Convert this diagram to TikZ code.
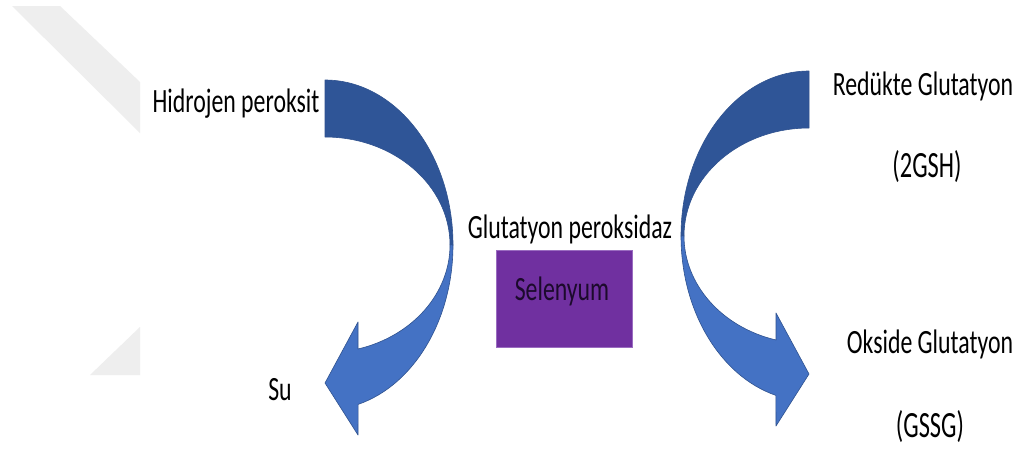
\documentclass[tikz,border=0pt]{standalone}
\usepackage{fontspec}
\usepackage{graphicx}
\setmainfont{Carlito}
\definecolor{darkband}{HTML}{2F5597}
\definecolor{lightband}{HTML}{4472C4}
\definecolor{bandedge}{HTML}{2F528F}
\definecolor{sepurple}{HTML}{7030A0}
\definecolor{seedge}{HTML}{9A6CC0}
\definecolor{wmgray}{HTML}{EEEEEE}
\definecolor{setext}{HTML}{1C0A2C}
\tikzset{
  lbl/.style={anchor=base, inner sep=0pt, font=\fontsize{34}{40}\selectfont},
  biglbl/.style={anchor=base, inner sep=0pt, font=\fontsize{37}{42}\selectfont},
  dark/.style={fill=darkband, draw=bandedge, line width=0.6pt, line join=round},
  light/.style={fill=lightband, draw=bandedge, line width=0.6pt, line join=round},
}
\newcommand{\sq}[1]{\scalebox{0.7}[1]{#1}}
\newcommand{\sqb}[1]{\scalebox{0.66}[1]{#1}}
\newcommand{\curvedarrowshape}{%
  % upper (back) band
  \path[dark] (0,-165) arc[start angle=-90, end angle=0, x radius=128, y radius=165]
     -- (125,0) arc[start angle=0, end angle=-90, x radius=125, y radius=108] -- cycle;
  % lower (front) band with arrow head
  \path[light] (128,0) arc[start angle=0, end angle=75, x radius=128, y radius=165]
     -- (33,190) -- (0,138) -- (33,77)
     -- (33,104) arc[start angle=74.7, end angle=0, x radius=125, y radius=108] -- cycle;
}
\begin{document}
\begin{tikzpicture}[x=1pt,y=-1pt]
\useasboundingbox[fill=white] (0,0) rectangle (1020,450);
% faint background watermark
\fill[wmgray] (12,6) -- (60,6) -- (140,82) -- (140,133) -- cycle;
\fill[wmgray] (90,375) -- (140,327) -- (140,375) -- cycle;
% curved arrows
\begin{scope}[shift={(325,245)}]
  \curvedarrowshape
\end{scope}
\begin{scope}[shift={(809,236)}, xscale=-1]
  \curvedarrowshape
\end{scope}
% Selenyum box
\node[draw=seedge, fill=sepurple, line width=0.6pt, minimum width=136pt, minimum height=97pt, inner sep=0pt] (se) at (564,298.5) {};
\node[lbl, text=setext] (setxt) at (562,300) {\sq{Selenyum}};
% labels
\node[lbl] (h2o2) at (236,112) {\sq{Hidrojen peroksit}};
\node[lbl] (su) at (280,400) {\sq{Su}};
\node[lbl] (gpx) at (570,238) {\sq{Glutatyon peroksidaz}};
\node[lbl] (gsh1) at (923,95) {\sq{Redükte Glutatyon}};
\node[biglbl] (gsh2) at (927,177) {\sqb{(2GSH)}};
\node[lbl] (gssg1) at (930,353) {\sq{Okside Glutatyon}};
\node[biglbl] (gssg2) at (930,437) {\sqb{(GSSG)}};
\end{tikzpicture}
\end{document}
